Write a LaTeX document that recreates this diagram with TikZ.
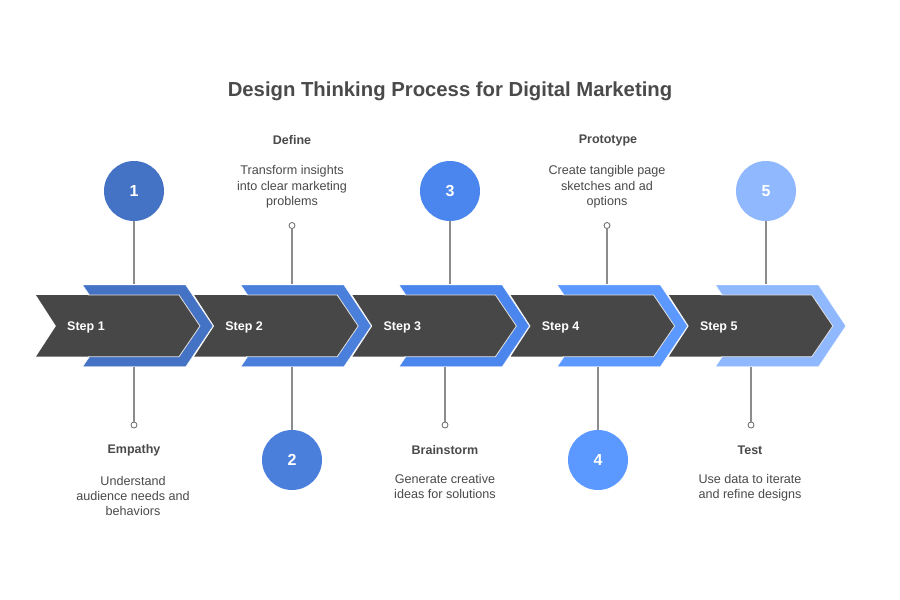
\documentclass[tikz,border=0pt]{standalone}
\usepackage{fontspec}
\setmainfont{Liberation Sans}
\definecolor{darkbar}{HTML}{474747}
\definecolor{ctext}{HTML}{4A4A4A}
\definecolor{cone}{HTML}{4472C4}
\definecolor{ctwo}{HTML}{4A7FDC}
\definecolor{cthree}{HTML}{4A86EE}
\definecolor{cfour}{HTML}{5B98FF}
\definecolor{cfive}{HTML}{8FB8FF}
\tikzset{
  x=1pt,y=-1pt,
  link/.style={draw=black!45,line width=1.1pt},
  dot/.style={circle,draw=black!60,fill=white,line width=0.8pt,minimum size=6pt,inner sep=0pt},
  badge/.style={circle,minimum size=60pt,inner sep=0pt,text=white,font=\bfseries\fontsize{16}{16}\selectfont},
  steplabel/.style={text=white,font=\bfseries\fontsize{12.5}{14}\selectfont,anchor=west,inner sep=0pt},
  headlabel/.style={text=ctext,font=\bfseries\fontsize{12.5}{15}\selectfont,inner sep=0pt},
  bodylabel/.style={text=ctext,align=center,font=\fontsize{12.6}{15.4}\selectfont,inner sep=0pt},
  outerchev/.style={draw=white,line width=0.4pt},
  innerchev/.style={fill=darkbar},
  edgeline/.style={draw=white!88!black,line width=0.8pt},
}
\begin{document}
\begin{tikzpicture}
\useasboundingbox (0,0) rectangle (900,600);
\fill[white] (0,0) rectangle (900,600);
\node[text=ctext,font=\bfseries\fontsize{20.3}{24}\selectfont,inner sep=0pt] (title) at (450,91) {Design Thinking Process for Digital Marketing};
% chevrons, last first so each one laps over the next
\foreach \i/\c in {4/cfive,3/cfour,2/cthree,1/ctwo,0/cone}{
  \begin{scope}[xshift=\i*158.2]
    \fill[\c,outerchev] (82.7,285) -- (185.7,285) -- (213,326) -- (185.7,366.7) -- (82.7,366.7) -- (89.5,356.7) -- (89.5,295) -- cycle;
    \path[innerchev] (36,295) -- (179,295) -- (200,326) -- (179,356.7) -- (36,356.7) -- (56,326) -- cycle;
    \draw[edgeline] (88,295) -- (179,295) -- (200,326) -- (179,356.7) -- (88,356.7);
  \end{scope}
}
\foreach \i/\x in {1/67,2/225.2,3/383.4,4/541.6,5/699.8}{
  \node[steplabel] (step\i) at (\x,327.5) {Step \i};
}
% anchors on the chevrons
\coordinate (topa) at (134,284);
\coordinate (topb) at (292,284);
\coordinate (topc) at (450,284);
\coordinate (topd) at (607,284);
\coordinate (tope) at (766,284);
\coordinate (bota) at (134,367);
\coordinate (botb) at (292,367);
\coordinate (botc) at (445,367);
\coordinate (botd) at (598,367);
\coordinate (bote) at (751,367);
% badges
\node[badge,fill=cone] (n1) at (134,191) {1};
\node[badge,fill=ctwo] (n2) at (292,460) {2};
\node[badge,fill=cthree] (n3) at (450,191) {3};
\node[badge,fill=cfour] (n4) at (598,460) {4};
\node[badge,fill=cfive] (n5) at (766,191) {5};
% end dots
\node[dot] (da) at (134,425) {};
\node[dot] (db) at (292,225.5) {};
\node[dot] (dc) at (445,425) {};
\node[dot] (dd) at (607,225.5) {};
\node[dot] (de) at (751,425) {};
% connectors
\draw[link] (n1) -- (topa);
\draw[link] (db) -- (topb);
\draw[link] (n3) -- (topc);
\draw[link] (dd) -- (topd);
\draw[link] (n5) -- (tope);
\draw[link] (bota) -- (da);
\draw[link] (botb) -- (n2);
\draw[link] (botc) -- (dc);
\draw[link] (botd) -- (n4);
\draw[link] (bote) -- (de);
% texts
\node[headlabel] (h1) at (134,450) {Empathy};
\node[bodylabel] (b1) at (133,496) {Understand\\audience needs and\\behaviors};
\node[headlabel] (h2) at (292,140) {Define};
\node[bodylabel] (b2) at (292,187) {Transform insights\\into clear marketing\\problems};
\node[headlabel] (h3) at (445,450) {Brainstorm};
\node[bodylabel] (b3) at (445,486.5) {Generate creative\\ideas for solutions};
\node[headlabel] (h4) at (608,140.5) {Prototype};
\node[bodylabel] (b4) at (607,187) {Create tangible page\\sketches and ad\\options};
\node[headlabel] (h5) at (750,450) {Test};
\node[bodylabel] (b5) at (750,487.5) {Use data to iterate\\and refine designs};
\end{tikzpicture}
\end{document}
